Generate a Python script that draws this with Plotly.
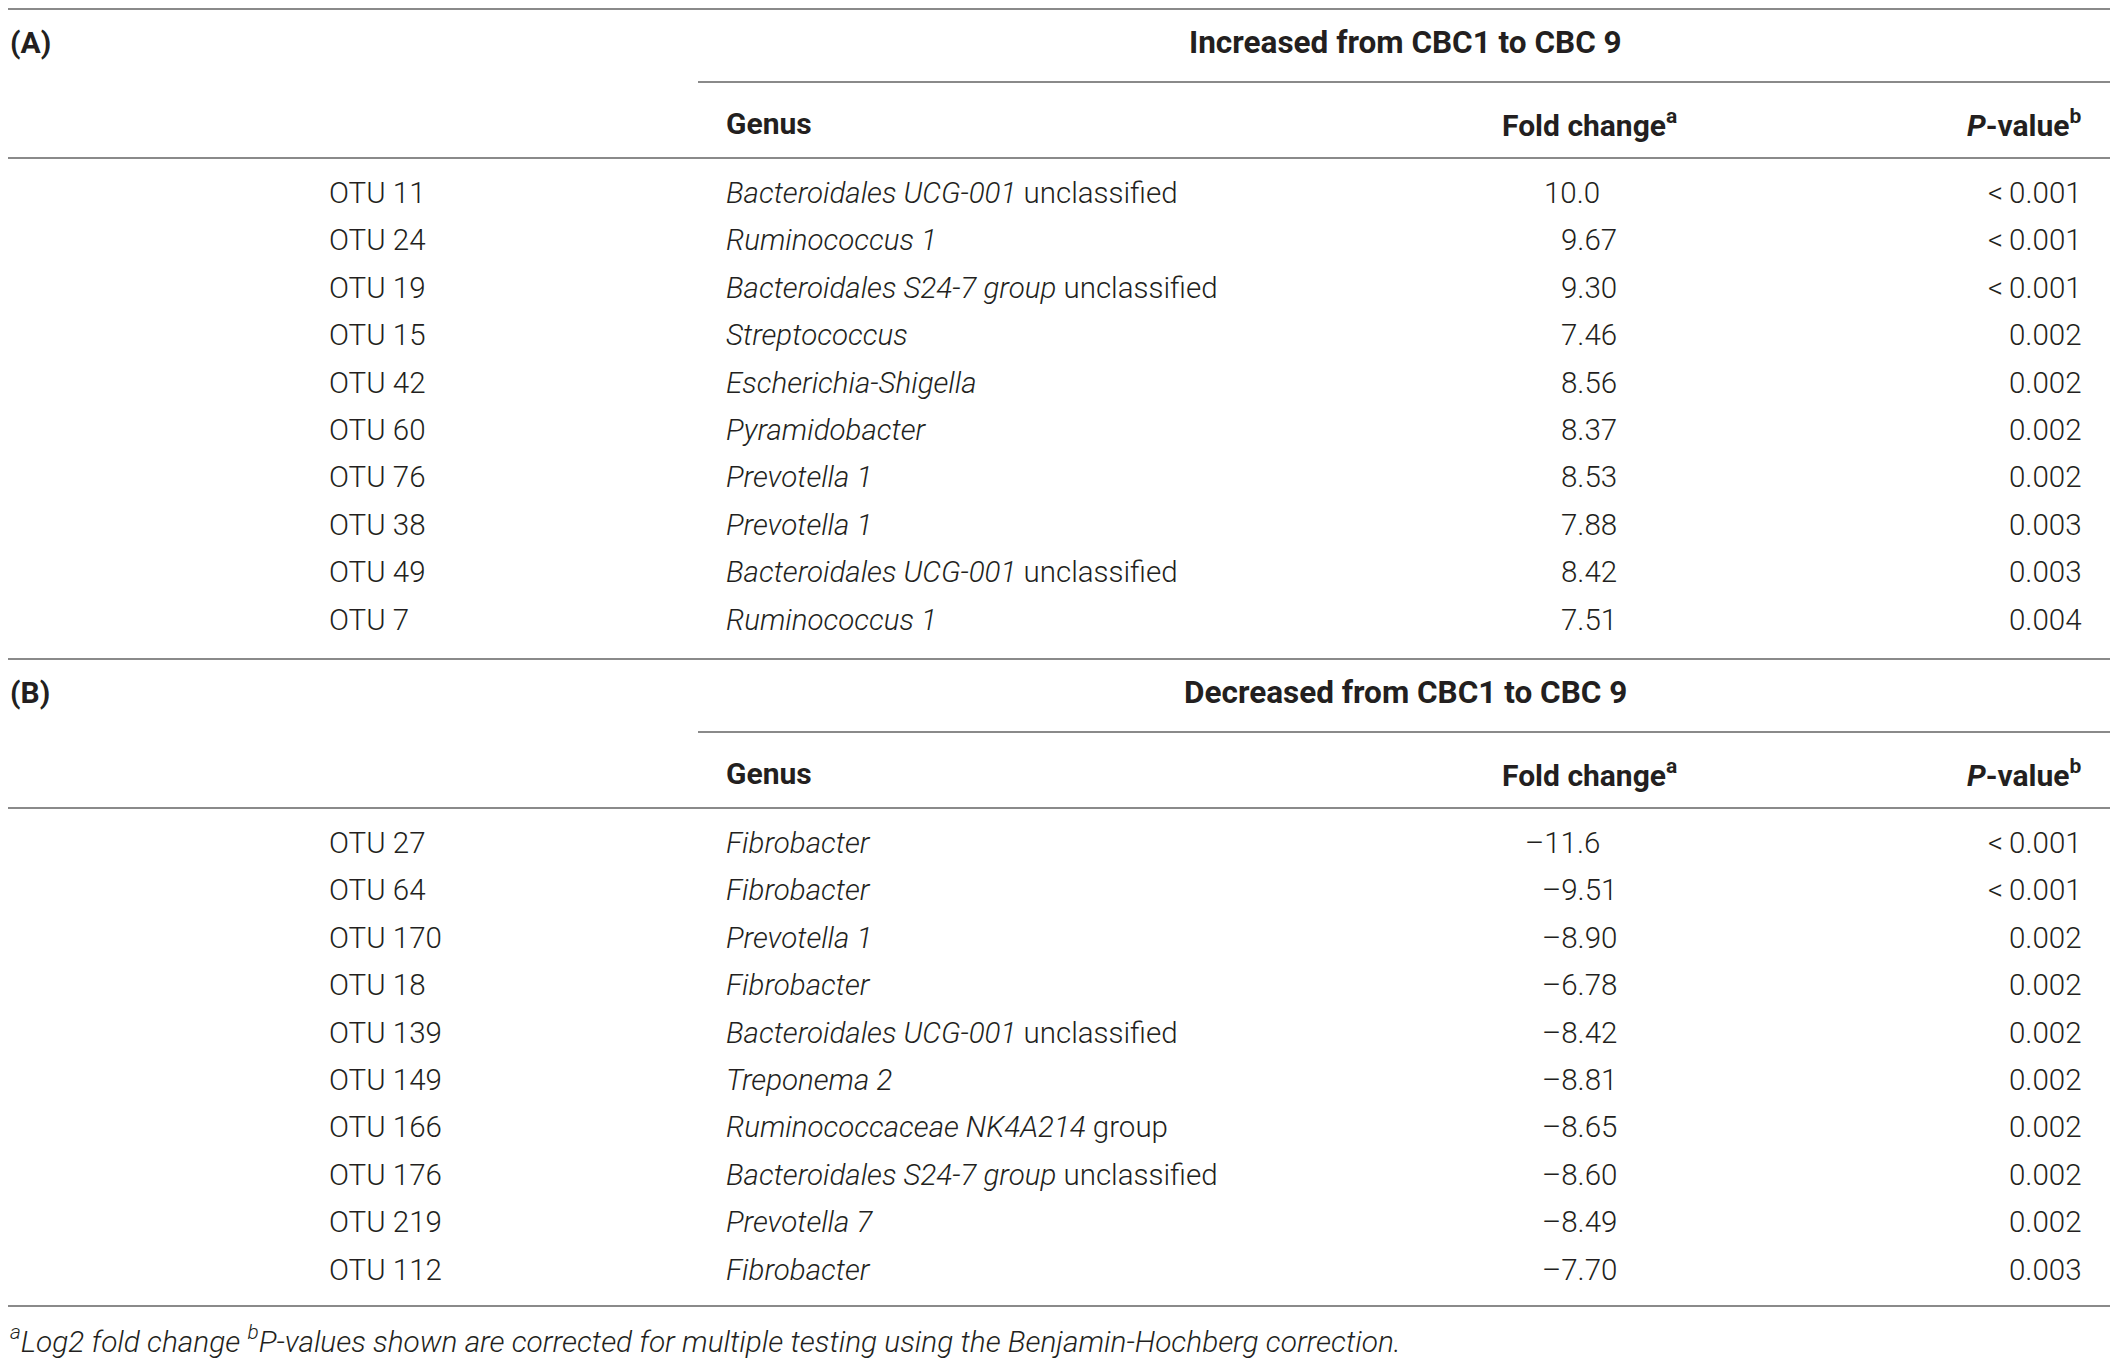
import plotly.graph_objects as go

# ---------------- data ----------------
title_a = "Increased from CBC1 to CBC 9"
title_b = "Decreased from CBC1 to CBC 9"
section_labels = ["(A)", "(B)"]
header_labels = ["Genus", "Fold change<sup>a</sup>", "<i>P</i>-value<sup>b</sup>"]

otu_a = ["OTU 11", "OTU 24", "OTU 19", "OTU 15", "OTU 42", "OTU 60", "OTU 76", "OTU 38", "OTU 49", "OTU 7"]
genus_a = [
    "<i>Bacteroidales UCG-001</i> unclassified",
    "<i>Ruminococcus 1</i>",
    "<i>Bacteroidales S24-7 group</i> unclassified",
    "<i>Streptococcus</i>",
    "<i>Escherichia-Shigella</i>",
    "<i>Pyramidobacter</i>",
    "<i>Prevotella 1</i>",
    "<i>Prevotella 1</i>",
    "<i>Bacteroidales UCG-001</i> unclassified",
    "<i>Ruminococcus 1</i>",
]
fc_a = [10.0, 9.67, 9.30, 7.46, 8.56, 8.37, 8.53, 7.88, 8.42, 7.51]
p_a = ["<0.001", "<0.001", "<0.001", "0.002", "0.002", "0.002", "0.002", "0.003", "0.003", "0.004"]

otu_b = ["OTU 27", "OTU 64", "OTU 170", "OTU 18", "OTU 139", "OTU 149", "OTU 166", "OTU 176", "OTU 219", "OTU 112"]
genus_b = [
    "<i>Fibrobacter</i>",
    "<i>Fibrobacter</i>",
    "<i>Prevotella 1</i>",
    "<i>Fibrobacter</i>",
    "<i>Bacteroidales UCG-001</i> unclassified",
    "<i>Treponema 2</i>",
    "<i>Ruminococcaceae NK4A214</i> group",
    "<i>Bacteroidales S24-7 group</i> unclassified",
    "<i>Prevotella 7</i>",
    "<i>Fibrobacter</i>",
]
fc_b = [-11.6, -9.51, -8.90, -6.78, -8.42, -8.81, -8.65, -8.60, -8.49, -7.70]
p_b = ["<0.001", "<0.001", "0.002", "0.002", "0.002", "0.002", "0.002", "0.002", "0.002", "0.003"]

footnote = ("<i><sup>a</sup>Log2 fold change <sup>b</sup>P-values shown are corrected for "
            "multiple testing using the Benjamin-Hochberg correction.</i>")

# ---------------- layout constants (page pixels) ----------------
PAGE_W, PAGE_H = 2118, 1359
BODY = 8                      # default page margin around the plot div
W, H = PAGE_W - BODY, PAGE_H - BODY
FONT = "Roboto"
FS = 29.5
FS_BOLD = 30
FS_TITLE = 31.5
FS_FOOT = 29.8
TXT = "#231f20"
LINE = "#8a8a8a"

X_LEFT, X_RIGHT = 8, 2112
X_SUBLINE = 698
X_OTU = 327
X_GENUS = 724
X_FC = 1619
X_FC_HDR = 1589
X_P = 2084
X_TITLE = 1405

BLOCK_DY = 650
Y_TOP = 9
Y_TITLE = 42
Y_SUB = 82
Y_HDR = 123
Y_HDRLINE = 158
Y_ROW0 = 193
ROW_DY = 47.4
Y_FOOT = 1339


def fmt_fc(v):
    s = f"{abs(v):.3g}"
    if "." not in s:
        s += ".0"
    while len(s.replace(".", "")) < 3:
        s += "0"
    if abs(v) >= 10:
        s += "\u2007"  # figure-space padding keeps decimal columns aligned
    return ("\u2013" if v < 0 else "") + s


def fmt_p(p):
    return p.replace("<", "&lt;\u2009")


fig = go.Figure()
ann = []
shapes = []


def text(x, y, s, anchor="left", bold=False, size=None):
    if size is None:
        size = FS_BOLD if bold else FS
    f = dict(family=FONT, size=size, color=TXT, weight=700 if bold else 300)
    ann.append(dict(x=x - BODY, y=y - BODY, xref="x", yref="y", text=s, showarrow=False,
                    xanchor=anchor, yanchor="middle", font=f))


def hline(y, x0=X_LEFT, x1=X_RIGHT):
    shapes.append(dict(type="line", xref="x", yref="y",
                       x0=x0 - BODY, x1=x1 - BODY, y0=y - BODY, y1=y - BODY,
                       line=dict(color=LINE, width=2)))


blocks = [
    (section_labels[0], title_a, otu_a, genus_a, fc_a, p_a),
    (section_labels[1], title_b, otu_b, genus_b, fc_b, p_b),
]

for bi, (lab, title, otus, genera, fcs, ps) in enumerate(blocks):
    off = bi * BLOCK_DY
    hline(Y_TOP + off)
    text(X_LEFT, Y_TITLE + off, lab, bold=True)
    text(X_TITLE, Y_TITLE + off, title, anchor="center", bold=True, size=FS_TITLE)
    hline(Y_SUB + off, x0=X_SUBLINE)
    text(X_GENUS, Y_HDR + off, header_labels[0], bold=True)
    text(X_FC_HDR, Y_HDR + off, header_labels[1], anchor="center", bold=True)
    text(X_P, Y_HDR + off, header_labels[2], anchor="right", bold=True)
    hline(Y_HDRLINE + off)
    for i, (o, g, fc, p) in enumerate(zip(otus, genera, fcs, ps)):
        y = Y_ROW0 + off + i * ROW_DY
        text(X_OTU, y, o)
        text(X_GENUS, y, g)
        text(X_FC, y, fmt_fc(fc), anchor="right")
        text(X_P, y, fmt_p(p), anchor="right")

hline(Y_TOP + 2 * BLOCK_DY - 3)
text(X_LEFT, Y_FOOT, footnote, size=FS_FOOT)

fig.update_layout(
    width=W, height=H,
    margin=dict(l=0, r=0, t=0, b=0),
    paper_bgcolor="white", plot_bgcolor="white",
    xaxis=dict(range=[0, W], visible=False, fixedrange=True),
    yaxis=dict(range=[H, 0], visible=False, fixedrange=True),
    annotations=ann, shapes=shapes, showlegend=False,
)

fig.write_html("out.html")
